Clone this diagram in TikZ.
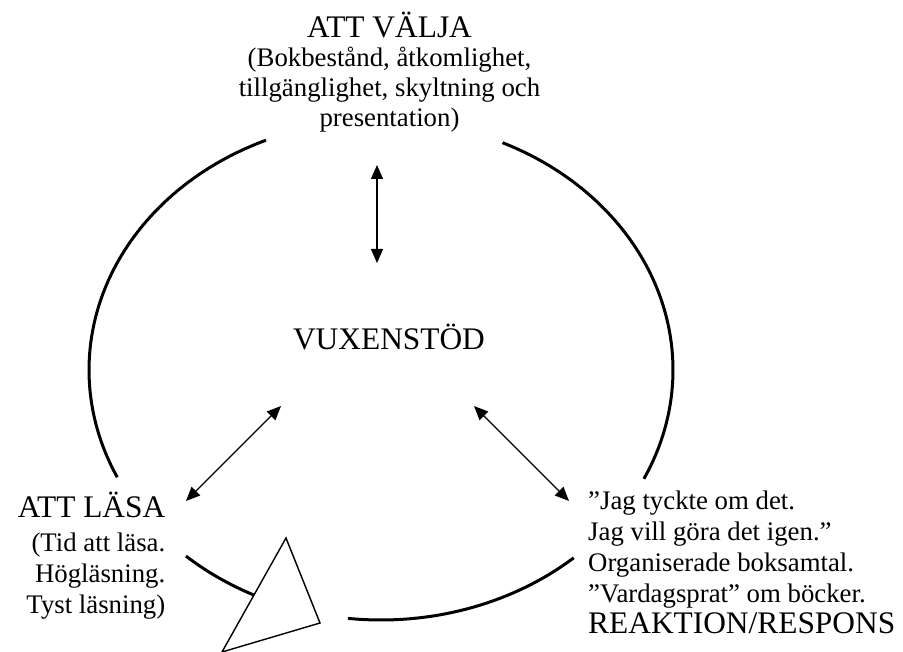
\documentclass[tikz,border=0pt]{standalone}
\usepackage{fontspec}
\setmainfont{Liberation Serif}
\usetikzlibrary{arrows.meta}
\begin{document}
\begin{tikzpicture}[x=1pt,y=-1pt,
  big/.style={inner sep=0pt, font=\fontsize{31.4}{34}\selectfont},
  small/.style={inner sep=0pt, font=\fontsize{26.8}{30}\selectfont},
  ring/.style={line width=3pt},
  link/.style={line width=1.3pt, {Triangle[length=14pt,width=12pt]}-{Triangle[length=14pt,width=12pt]}},
  tri/.style={line width=1.4pt, line join=miter}
]
\useasboundingbox (0,0) rectangle (903,652);
% top block
\node[big, anchor=base] (valja) at (389.5,38) {ATT VÄLJA};
\node[small, anchor=base] (valja1) at (389.5,67) {(Bokbestånd, åtkomlighet,};
\node[small, anchor=base] (valja2) at (389.5,97) {tillgänglighet, skyltning och};
\node[small, anchor=base] (valja3) at (389.5,127) {presentation)};
% centre
\node[big, anchor=base] (stod) at (389,350) {VUXENSTÖD};
% left block
\node[big, anchor=base east] (lasa) at (165.5,517) {ATT LÄSA};
\node[small, anchor=base east] (lasa1) at (165.5,551) {(Tid att läsa.};
\node[small, anchor=base east] (lasa2) at (165.5,582) {Högläsning.};
\node[small, anchor=base east] (lasa3) at (165.5,613) {Tyst läsning)};
% right block
\node[small, anchor=base west] (resp1) at (588,509) {”Jag tyckte om det.};
\node[small, anchor=base west] (resp2) at (588,540) {Jag vill göra det igen.”};
\node[small, anchor=base west] (resp3) at (588,571) {Organiserade boksamtal.};
\node[small, anchor=base west] (resp4) at (588,602) {”Vardagsprat” om böcker.};
\node[big, anchor=base west] (resp) at (588,633) {REAKTION/RESPONS};
% ring
\coordinate (ringc) at (381,370);
\draw[ring] (ringc) ++(154.6:292 and 250) arc[start angle=154.6, end angle=246.8, x radius=292, y radius=250];
\draw[ring] (ringc) ++(-65.4:292 and 250) arc[start angle=-65.4, end angle=25.8, x radius=292, y radius=250];
\draw[ring] (ringc) ++(48.7:292 and 250) arc[start angle=48.7, end angle=96.5, x radius=292, y radius=250];
\draw[ring] (ringc) ++(115.9:292 and 250) arc[start angle=115.9, end angle=131.9, x radius=292, y radius=250];
% triangle
\draw[tri] (286,538) -- (320,623) -- (222,652) -- cycle;
% arrows
\coordinate (vA) at (377,165);
\coordinate (vB) at (377,263);
\coordinate (lA) at (281,406);
\coordinate (lB) at (186,501);
\coordinate (rA) at (474,406);
\coordinate (rB) at (569,501);
\draw[link] (vA) -- (vB);
\draw[link] (lA) -- (lB);
\draw[link] (rA) -- (rB);
\end{tikzpicture}
\end{document}
